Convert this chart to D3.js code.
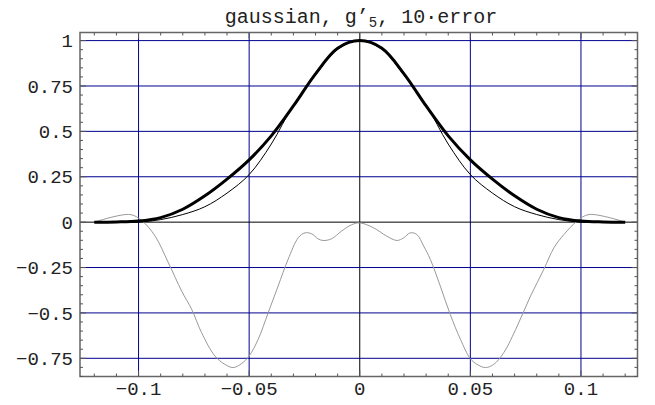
<!DOCTYPE html>
<html>
<head>
<meta charset="utf-8">
<title>gaussian, g'5, 10 error</title>
<script src="https://d3js.org/d3.v7.min.js"></script>
<style>
  body {margin: 0; background: white;}
  text {font-family: "Liberation Mono", "DejaVu Sans Mono", monospace; fill: #222;}
</style>
</head>
<body>
<svg id="chart" width="655" height="405"></svg>
<script>
// sample positions of the two smooth curves
const xs = [-0.12, -0.11, -0.10, -0.09, -0.08, -0.07, -0.06, -0.05, -0.04, -0.03, -0.02, -0.01, 0,
            0.01, 0.02, 0.03, 0.04, 0.05, 0.06, 0.07, 0.08, 0.09, 0.10, 0.11, 0.12];
// gaussian (thick)
const gaussY = [0, 0.001, 0.006, 0.025, 0.071, 0.145, 0.237, 0.343, 0.475, 0.64, 0.817, 0.958, 1,
                0.958, 0.817, 0.64, 0.475, 0.343, 0.237, 0.145, 0.071, 0.025, 0.006, 0.001, 0];
// g'5 (thin)
const approxY = [0, 0, 0, 0.014, 0.042, 0.085, 0.16, 0.262, 0.43, 0.645, 0.81, 0.952, 1,
                 0.952, 0.81, 0.645, 0.43, 0.262, 0.16, 0.085, 0.042, 0.014, 0, 0, 0];
// 10*error (gray)
const errX = [-0.12, -0.1038, -0.0983, -0.0925, -0.0865, -0.0805, -0.076, -0.0715, -0.0655, -0.061,
              -0.0572, -0.0534, -0.05, -0.0459, -0.0414, -0.0369, -0.0324, -0.0278, -0.0248, -0.0218,
              -0.0188, -0.0166, -0.0128, -0.0083, -0.0038, 0, 0.0062, 0.0122, 0.0168, 0.0199,
              0.0228, 0.0258, 0.0289, 0.0319, 0.0364, 0.0409, 0.0455, 0.05, 0.053, 0.0568,
              0.0606, 0.0651, 0.0712, 0.0772, 0.0832, 0.0878, 0.0923, 0.0983, 0.1036, 0.12];
const errY = [0, 0.042, 0.006, -0.077, -0.224, -0.38, -0.48, -0.609, -0.737, -0.783,
              -0.801, -0.779, -0.737, -0.645, -0.499, -0.352, -0.205, -0.086, -0.059, -0.064,
              -0.092, -0.101, -0.092, -0.05, -0.015, -0.004, -0.031, -0.077, -0.101, -0.086,
              -0.059, -0.068, -0.132, -0.205, -0.352, -0.508, -0.645, -0.752, -0.783, -0.801,
              -0.783, -0.719, -0.572, -0.407, -0.26, -0.141, -0.068, 0.006, 0.042, 0];

const xTicks = [-0.1, -0.05, 0, 0.05, 0.1];
const xTickLabels = ["\u22120.1", "\u22120.05", "0", "0.05", "0.1"];
const yTicks = [-0.75, -0.5, -0.25, 0, 0.25, 0.5, 0.75, 1];
const yTickLabels = ["\u22120.75", "\u22120.5", "\u22120.25", "0", "0.25", "0.5", "0.75", "1"];

var svg = d3.select("#chart");
var pLeft = 80, pRight = 637.5, pTop = 32.5, pBottom = 376.5;

var x = d3.scaleLinear().domain([-0.12647, 0.12556]).range([pLeft, pRight]);
var y = d3.scaleLinear().domain([-0.8502, 1.0446]).range([pBottom, pTop]);

// grid lines
xTicks.forEach(function(v) {
  svg.append("line")
     .attr("x1", x(v)).attr("x2", x(v)).attr("y1", pTop).attr("y2", pBottom)
     .attr("stroke", v === 0 ? "#000" : "#000090").attr("stroke-width", 1);
});
yTicks.forEach(function(v) {
  svg.append("line")
     .attr("x1", pLeft).attr("x2", pRight).attr("y1", y(v)).attr("y2", y(v))
     .attr("stroke", v === 0 ? "#000" : "#000090").attr("stroke-width", 1);
});

var smooth = d3.line().curve(d3.curveCatmullRom.alpha(0.5));

svg.append("path")
   .attr("d", smooth(errX.map((v, i) => [x(v), y(errY[i])])))
   .attr("fill", "none").attr("stroke", "#999").attr("stroke-width", 1);

svg.append("path")
   .attr("d", smooth(xs.map((v, i) => [x(v), y(approxY[i])])))
   .attr("fill", "none").attr("stroke", "#000").attr("stroke-width", 1);

svg.append("path")
   .attr("d", smooth(xs.map((v, i) => [x(v), y(gaussY[i])])))
   .attr("fill", "none").attr("stroke", "#000").attr("stroke-width", 3)
   .attr("stroke-linejoin", "round");

// frame
svg.append("rect")
   .attr("x", pLeft).attr("y", pTop).attr("width", pRight - pLeft).attr("height", pBottom - pTop)
   .attr("fill", "none").attr("stroke", "#666").attr("stroke-width", 1.5);

// inward ticks on all four sides
var minorX = d3.range(-12, 13).map(d => d / 100);
var minorY = d3.range(-17, 21).map(d => d / 20);
minorX.forEach(function(v) {
  var len = Math.abs(v * 20 - Math.round(v * 20)) < 1e-6 ? 6 : 3;
  svg.append("line").attr("x1", x(v)).attr("x2", x(v)).attr("y1", pBottom).attr("y2", pBottom - len)
     .attr("stroke", "#555").attr("stroke-width", 1);
  svg.append("line").attr("x1", x(v)).attr("x2", x(v)).attr("y1", pTop).attr("y2", pTop + len)
     .attr("stroke", "#555").attr("stroke-width", 1);
});
minorY.forEach(function(v) {
  var len = Math.abs(v * 4 - Math.round(v * 4)) < 1e-6 ? 6 : 3;
  svg.append("line").attr("x1", pLeft).attr("x2", pLeft + len).attr("y1", y(v)).attr("y2", y(v))
     .attr("stroke", "#555").attr("stroke-width", 1);
  svg.append("line").attr("x1", pRight).attr("x2", pRight - len).attr("y1", y(v)).attr("y2", y(v))
     .attr("stroke", "#555").attr("stroke-width", 1);
});

// tick labels
xTicks.forEach(function(v, i) {
  svg.append("text").attr("x", x(v)).attr("y", 395)
     .attr("text-anchor", "middle").attr("font-size", 19).text(xTickLabels[i]);
});
yTicks.forEach(function(v, i) {
  svg.append("text").attr("x", 73).attr("y", y(v)).attr("dy", "0.35em")
     .attr("text-anchor", "end").attr("font-size", 19).text(yTickLabels[i]);
});

// title
var title = svg.append("text").attr("x", 361).attr("y", 23)
   .attr("text-anchor", "middle").attr("font-size", 20);
title.append("tspan").text("gaussian, g\u2019");
title.append("tspan").attr("font-size", 14).attr("dy", 4).text("5");
title.append("tspan").attr("dy", -4).text(", 10\u00b7error");
</script>
</body>
</html>
